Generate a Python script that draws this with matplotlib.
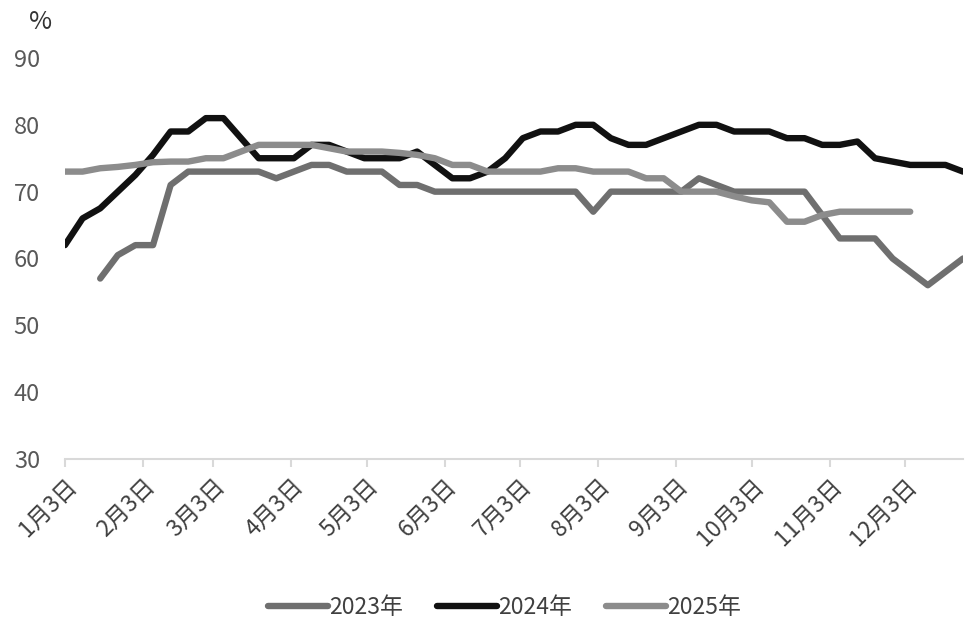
import matplotlib.pyplot as plt
import numpy as np

plt.rcParams['font.family'] = ['Noto Sans CJK SC', 'DejaVu Sans']

# weekly points, day offsets from 1月3日
weeks = np.arange(52) * 7

v2023 = [None, None, 57, 60.5, 62, 62, 71, 73, 73, 73,
         73, 73, 72, 73, 74, 74, 73, 73, 73, 71,
         71, 70, 70, 70, 70, 70, 70, 70, 70, 70,
         67, 70, 70, 70, 70, 70, 72, 71, 70, 70,
         70, 70, 70, 66.5, 63, 63, 63, 60, 58, 56,
         58, 60]
v2024 = [62, 66, 67.5, 70, 72.5, 75.5, 79, 79, 81, 81,
         78, 75, 75, 75, 77, 77, 76, 75, 75, 75,
         76, 74, 72, 72, 73, 75, 78, 79, 79, 80,
         80, 78, 77, 77, 78, 79, 80, 80, 79, 79,
         79, 78, 78, 77, 77, 77.5, 75, 74.5, 74, 74,
         74, 73]
v2025 = [73, 73, 73.5, 73.7, 74, 74.4, 74.5, 74.5, 75, 75,
         76, 77, 77, 77, 77, 76.5, 76, 76, 76, 75.8,
         75.5, 75, 74, 74, 73, 73, 73, 73, 73.5, 73.5,
         73, 73, 73, 72, 72, 70, 70, 70, 69.3, 68.7,
         68.4, 65.5, 65.5, 66.5, 67, 67, 67, 67, 67]

tick_days = [0, 31, 59, 90, 120, 151, 181, 212, 243, 273, 304, 334]
tick_labels = [f'{m}月3日' for m in range(1, 13)]

def arr(v):
    return np.array([np.nan if x is None else x for x in v], dtype=float)

fig = plt.figure(figsize=(9.8, 6.33), dpi=100)
ax = fig.add_axes([0.0663, 0.2749, 0.9164, 0.6335])

ax.plot(weeks[:len(v2023)], arr(v2023), color='#6f6f6f', lw=4.6, label='2023年',
        solid_joinstyle='round', solid_capstyle='round')
ax.plot(weeks[:len(v2024)], arr(v2024), color='#111111', lw=4.6, label='2024年',
        solid_joinstyle='round', solid_capstyle='round')
ax.plot(weeks[:len(v2025)], arr(v2025), color='#8c8c8c', lw=4.6, label='2025年',
        solid_joinstyle='round', solid_capstyle='round')

ax.set_xlim(0, 357)
ax.set_ylim(30, 90)
ax.set_yticks(range(30, 91, 10))
ax.set_xticks(tick_days)
ax.set_xticklabels(tick_labels, rotation=45, ha='right', va='top',
                   rotation_mode='anchor')

for s in ['top', 'right', 'left']:
    ax.spines[s].set_visible(False)
ax.spines['bottom'].set_color('#d9d9d9')
ax.spines['bottom'].set_linewidth(1.5)
ax.tick_params(axis='y', length=0, labelsize=17, labelcolor='#595959', pad=18)
ax.tick_params(axis='x', length=6, width=1.5, color='#d9d9d9', labelsize=16.5,
               labelcolor='#404040', pad=5)

fig.text(0.03, 0.965, '%', fontsize=18, color='#333333', ha='left', va='center')

fig.legend(loc='center', bbox_to_anchor=(0.515, 0.041), ncol=3, frameon=False,
           fontsize=16.5, handlelength=2.6, columnspacing=1.5, handletextpad=0.05,
           labelcolor='#404040')

fig.savefig('out.png', dpi=100)
